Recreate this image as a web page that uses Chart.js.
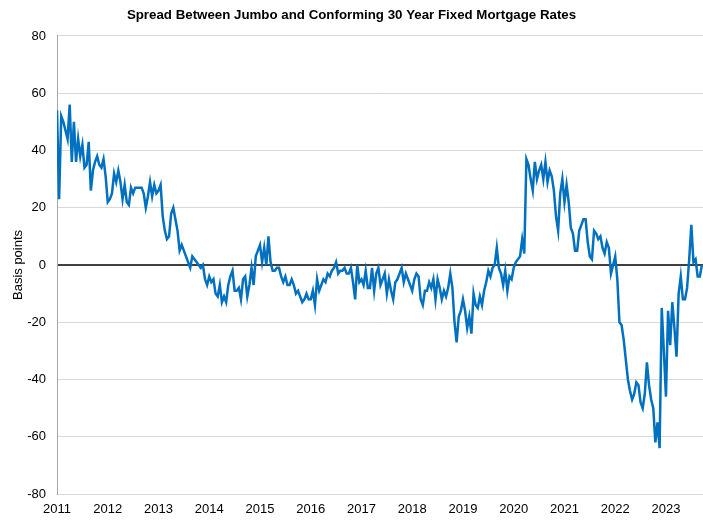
<!DOCTYPE html>
<html>
<head>
<meta charset="utf-8">
<script src="https://cdn.jsdelivr.net/npm/chart.js@4.4.1/dist/chart.umd.min.js"></script>
<style>
  html, body { margin: 0; padding: 0; background: #fff; }
  #wrap { width: 703px; height: 522px; }
</style>
</head>
<body>
<div id="wrap"><canvas id="spreadChart" width="703" height="522"></canvas></div>
<script>
// ---------------- Data (basis points, ~2 readings per month) ----------------
const yearTicks = [2011, 2012, 2013, 2014, 2015, 2016, 2017, 2018, 2019, 2020, 2021, 2022, 2023];
const yTicks = [-80, -60, -40, -20, 0, 20, 40, 60, 80];

const s2011 = [54, 23, 52, 50, 47, 44, 56, 36, 50, 36, 44, 38, 42, 34, 35, 43, 26, 33, 36, 38, 35, 34, 37, 31];
const s2012 = [22, 23, 25, 32, 29, 33, 29, 23, 28, 22, 21, 27, 25, 27, 27, 27, 27, 25, 20, 24, 29, 24, 28, 25];
const s2013 = [26, 28, 17, 12, 9, 10, 18, 20, 16, 12, 5, 7, 5, 3, 1, -1, 3, 2, 1, 0, -1, 0, -5, -7];
const s2014 = [-4, -6, -5, -10, -11, -7, -13, -11, -13, -7, -4, -2, -9, -9, -8, -12, -5, -4, -11, -7, -1, -7, 3, 5];
const s2015 = [7, 1, 6, 0, 10, 1, -2, -2, -1, -1, -4, -6, -4, -7, -7, -5, -7, -10, -9, -11, -13, -12, -10, -12];
const s2016 = [-12, -9, -14, -5, -9, -7, -5, -6, -3, -4, -2, -1, 1, -3, -2, -2, -1, -3, -3, -1, -6, -12, 0, -6];
const s2017 = [-5, -7, -2, -8, -8, -1, -9, -3, -1, -7, -5, -3, -10, -5, -9, -12, -6, -5, -3, -1, -6, -3, -5, -7];
const s2018 = [-9, -5, -3, -4, -12, -14, -9, -9, -6, -8, -5, -12, -5, -8, -12, -9, -11, -8, -3, -8, -20, -27, -18, -16];
const s2019 = [-12, -16, -22, -18, -24, -10, -14, -15, -11, -14, -9, -6, -2, -4, -1, 0, 6, -1, -3, -7, -2, -9, -4, -5];
const s2020 = [-1, 1, 2, 3, 9, 4, 37, 35, 30, 26, 36, 30, 33, 35, 30, 36, 29, 33, 31, 26, 17, 12, 25, 30];
const s2021 = [22, 28, 22, 13, 11, 5, 5, 12, 14, 16, 16, 8, 3, 2, 12, 11, 9, 10, 6, 4, 8, 6, -3, 0];
const s2022 = [3, -5, -20, -21, -26, -33, -40, -44, -47, -45, -41, -42, -48, -50, -45, -34, -42, -47, -50, -62, -55, -64, -15, -30];
const s2023 = [-46, -16, -28, -13, -22, -32, -10, -4, -12, -12, -8, 2, 14, 1, 2, -4, -4, 0];

const seriesByYear = [s2011, s2012, s2013, s2014, s2015, s2016, s2017, s2018, s2019, s2020, s2021, s2022, s2023];
const xEnd = 2023.73;

// ---------------- Helpers ----------------
function buildPoints() {
  const pts = [];
  seriesByYear.forEach((arr, i) => {
    const yr = yearTicks[i];
    arr.forEach((v, k) => pts.push({ x: yr + k / 24, y: v }));
  });
  return pts;
}

const FONT = "'Liberation Sans', Arial, sans-serif";

new Chart(document.getElementById("spreadChart"), {
  type: "line",
  data: {
    datasets: [{
      label: "Spread",
      data: buildPoints(),
      borderColor: "#0070C0",
      borderWidth: 2.5,
      pointRadius: 0,
      tension: 0,
      fill: false
    }]
  },
  options: {
    responsive: false,
    animation: false,
    layout: { padding: 0 },
    plugins: {
      legend: { display: false },
      tooltip: { enabled: false },
      title: {
        display: true,
        text: "Spread Between Jumbo and Conforming 30 Year Fixed Mortgage Rates",
        color: "#000",
        font: { family: FONT, size: 13.3, weight: "bold" },
        padding: { top: 7, bottom: 13 }
      }
    },
    scales: {
      x: {
        type: "linear",
        min: 2011,
        max: xEnd,
        grid: { display: false, drawTicks: false, tickLength: 0 },
        border: { display: false },
        afterBuildTicks: s => { s.ticks = yearTicks.map(v => ({ value: v })); },
        afterFit: s => { s.height = 28; },
        ticks: {
          color: "#000",
          padding: 8,
          maxRotation: 0,
          autoSkip: false,
          font: { family: FONT, size: 13 },
          callback: v => String(v)
        }
      },
      y: {
        min: -80,
        max: 80,
        afterBuildTicks: s => { s.ticks = yTicks.map(v => ({ value: v })); },
        afterFit: s => { s.width = 57; },
        border: { display: true, color: "#a6a6a6", width: 1 },
        grid: {
          drawTicks: false,
          color: c => c.tick && c.tick.value === 0 ? "#404040" : "#d9d9d9",
          lineWidth: c => c.tick && c.tick.value === 0 ? 2 : 1
        },
        ticks: {
          color: "#000",
          padding: 11,
          font: { family: FONT, size: 13 },
          callback: v => String(v)
        },
        title: {
          display: true,
          text: "Basis points",
          color: "#000",
          font: { family: FONT, size: 13 },
          padding: { top: 11, bottom: 0 }
        }
      }
    }
  }
});
</script>
</body>
</html>
